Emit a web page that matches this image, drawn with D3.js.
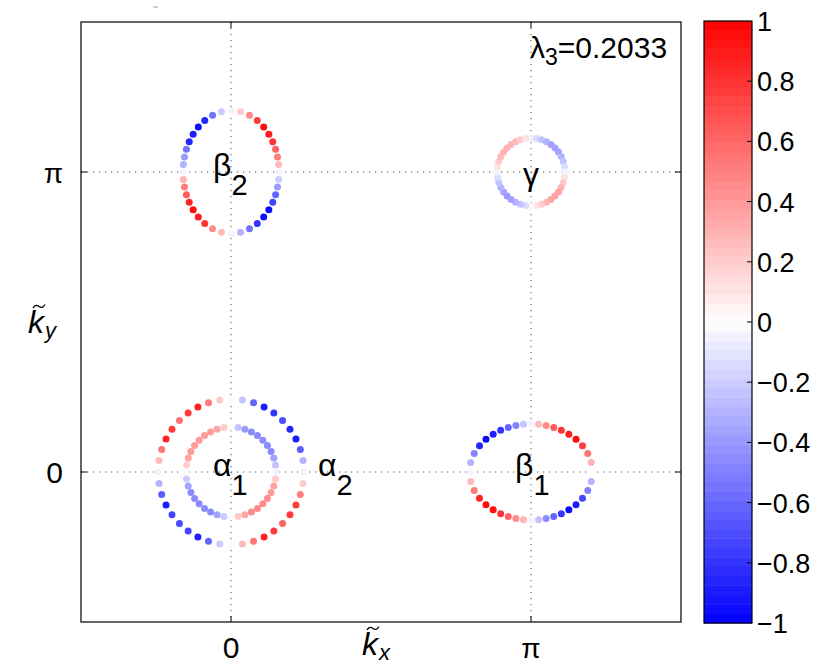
<!DOCTYPE html>
<html>
<head>
<meta charset="utf-8">
<script src="https://cdn.jsdelivr.net/npm/d3@7"></script>
<style>
  body { margin: 0; background: #fff; }
  text { font-family: "Liberation Sans", Arial, sans-serif; }
</style>
</head>
<body>
<svg id="chart" width="832" height="668"></svg>
<script>
// ---- Fermi pockets: centre (units of π) and semi-axes (units of π) ----
const pocketCenterX = [0, 0, 0, 1, 1];
const pocketCenterY = [0, 0, 1, 0, 1];
const pocketRadiusX = [0.243, 0.15, 0.16, 0.205, 0.113];
const pocketRadiusY = [0.243, 0.15, 0.205, 0.16, 0.113];

// ---- gap values on each pocket, 40 k-points, clockwise from the top ----
const alpha2Values = [
  0.00, -0.25, -0.60, -0.90, -0.80, -0.70, -0.85, -0.90, -0.65, -0.30,
 -0.05,  0.20,  0.50,  0.75,  0.75,  0.60,  0.75,  0.85,  0.55,  0.25,
  0.00, -0.20, -0.60, -0.90, -0.75, -0.70, -0.75, -0.90, -0.65, -0.30,
 -0.05,  0.25,  0.55,  0.85,  0.75,  0.55,  0.75,  0.85,  0.50,  0.20];
const alpha1Values = [
  0.02, -0.25, -0.40, -0.45, -0.45, -0.45, -0.45, -0.45, -0.35, -0.25,
 -0.05,  0.20,  0.35,  0.40,  0.45,  0.45,  0.45,  0.45,  0.35,  0.20,
  0.00, -0.20, -0.35, -0.45, -0.45, -0.45, -0.45, -0.45, -0.35, -0.20,
  0.00,  0.20,  0.35,  0.40,  0.40,  0.40,  0.40,  0.40,  0.35,  0.20];
const beta2Values = [
 -0.05,  0.20,  0.45,  0.75,  0.95,  0.90,  0.80,  0.60,  0.50,  0.25,
 -0.05, -0.20, -0.40, -0.60, -0.75, -0.95, -0.95, -0.80, -0.55, -0.30,
 -0.05,  0.25,  0.45,  0.80,  0.90,  0.95,  0.85,  0.65,  0.50,  0.30,
 -0.05, -0.30, -0.40, -0.55, -0.85, -0.90, -0.95, -0.85, -0.55, -0.20];
const beta1Values = [
 -0.05,  0.25,  0.45,  0.65,  0.80,  0.90,  0.95,  0.75,  0.55,  0.30,
  0.00, -0.30, -0.50, -0.75, -0.90, -0.95, -0.80, -0.60, -0.45, -0.25,
 -0.05,  0.30,  0.45,  0.60,  0.80,  0.95,  0.95,  0.85,  0.50,  0.25,
 -0.05, -0.30, -0.50, -0.85, -0.95, -0.90, -0.80, -0.60, -0.50, -0.25];
const gammaValues = [
 -0.05, -0.15, -0.25, -0.30, -0.35, -0.35, -0.35, -0.30, -0.25, -0.15,
 -0.05,  0.10,  0.20,  0.30,  0.35,  0.35,  0.35,  0.30,  0.20,  0.10,
 -0.02, -0.15, -0.25, -0.30, -0.35, -0.40, -0.35, -0.30, -0.25, -0.15,
 -0.05,  0.10,  0.20,  0.25,  0.30,  0.30,  0.30,  0.25,  0.20,  0.10];
const pocketValues = [alpha2Values, alpha1Values, beta2Values, beta1Values, gammaValues];

// ---- pocket labels ----
const pocketLabels = ["α", "α", "β", "β", "γ"];
const pocketSubs = ["2", "1", "2", "1", ""];

// ---- axes ticks and colour bar ticks ----
const axisTickValues = [0, 1];
const axisTickLabels = ["0", "π"];
const colorbarTicks = [-1, -0.8, -0.6, -0.4, -0.2, 0, 0.2, 0.4, 0.6, 0.8, 1];
const lambdaValue = "0.2033";

// ---- layout ----
const svg = d3.select("#chart");
const plot = { left: 81, right: 681, top: 22, bottom: 622 };
const x = d3.scaleLinear().domain([-0.5, 1.5]).range([plot.left, plot.right]);
const y = d3.scaleLinear().domain([-0.5, 1.5]).range([plot.bottom, plot.top]);

// blue-white-red colormap with 64 levels
const nLevels = 64;
function levelColor(k) {
  const v = -1 + (k + 0.5) * 2 / nLevels;
  if (v < 0) {
    const t = 1 + v;
    return d3.rgb(255 * t, 255 * t, 255);
  }
  const t = 1 - v;
  return d3.rgb(255, 255 * t, 255 * t);
}
const cmap = d3.scaleQuantize().domain([-1, 1]).range(d3.range(nLevels).map(levelColor));

svg.append("rect").attr("width", 832).attr("height", 668).attr("fill", "#fff");

// dotted grid at 0 and π
const grid = svg.append("g").attr("stroke", "#3a3a3a").attr("stroke-width", 0.9)
  .attr("stroke-dasharray", "1.2,4.8");
axisTickValues.forEach(t => {
  grid.append("line").attr("x1", x(t)).attr("x2", x(t)).attr("y1", plot.top).attr("y2", plot.bottom);
  grid.append("line").attr("y1", y(t)).attr("y2", y(t)).attr("x1", plot.left).attr("x2", plot.right);
});

// axes with inward ticks on all four sides
const tickLen = 6;
const axes = svg.append("g").attr("stroke", "#000").attr("stroke-width", 1);
axisTickValues.forEach(t => {
  axes.append("line").attr("x1", x(t)).attr("x2", x(t)).attr("y1", plot.bottom).attr("y2", plot.bottom - tickLen);
  axes.append("line").attr("x1", x(t)).attr("x2", x(t)).attr("y1", plot.top).attr("y2", plot.top + tickLen);
  axes.append("line").attr("y1", y(t)).attr("y2", y(t)).attr("x1", plot.left).attr("x2", plot.left + tickLen);
  axes.append("line").attr("y1", y(t)).attr("y2", y(t)).attr("x1", plot.right).attr("x2", plot.right - tickLen);
});

// k-points on each pocket: 40 polar angles, clockwise from the top
const points = [];
pocketValues.forEach((vals, p) => {
  const n = vals.length;
  vals.forEach((v, i) => {
    const th = Math.PI / 2 - i * 2 * Math.PI / n;
    const c = Math.cos(th), s = Math.sin(th);
    const rx = pocketRadiusX[p], ry = pocketRadiusY[p];
    const r = 1 / Math.sqrt((c * c) / (rx * rx) + (s * s) / (ry * ry));
    points.push({ kx: pocketCenterX[p] + r * c, ky: pocketCenterY[p] + r * s, v });
  });
});
svg.append("g").selectAll("circle").data(points).join("circle")
  .attr("cx", d => x(d.kx)).attr("cy", d => y(d.ky)).attr("r", 3.5)
  .attr("fill", d => cmap(d.v));

// axes box
svg.append("rect").attr("x", plot.left).attr("y", plot.top)
  .attr("width", plot.right - plot.left).attr("height", plot.bottom - plot.top)
  .attr("fill", "none").attr("stroke", "#000").attr("stroke-width", 1.2);

// pocket labels (anchored to the pocket centre)
const labelOffsets = [[87, 4], [-18, 4], [-18, 4], [-16, 4], [-8, 13]];
const labels = svg.append("g").attr("font-size", 32).attr("fill", "#000");
pocketLabels.forEach((lab, p) => {
  const cx = x(pocketCenterX[p]) + labelOffsets[p][0];
  const cy = y(pocketCenterY[p]) + labelOffsets[p][1];
  const t = labels.append("text").attr("x", cx).attr("y", cy);
  t.append("tspan").text(lab);
  if (pocketSubs[p]) t.append("tspan").attr("dy", 19).attr("font-size", 29).text(pocketSubs[p]);
});

// λ3 annotation
const lam = svg.append("text").attr("x", 530).attr("y", 58).attr("font-size", 30);
lam.append("tspan").text("λ");
lam.append("tspan").attr("dy", 7).attr("font-size", 23).text("3");
lam.append("tspan").attr("dy", -7).text("=" + lambdaValue);

// tick labels
const tl = svg.append("g").attr("font-size", 30).attr("fill", "#000");
axisTickValues.forEach((t, i) => {
  tl.append("text").attr("x", x(t)).attr("y", plot.bottom + 36).attr("text-anchor", "middle")
    .attr("font-family", i ? "DejaVu Serif" : null).attr("font-size", i ? 28 : null).text(axisTickLabels[i]);
  tl.append("text").attr("x", plot.left - 18).attr("y", y(t) + 11).attr("text-anchor", "end")
    .attr("font-family", i ? "DejaVu Serif" : null).attr("font-size", i ? 28 : null).text(axisTickLabels[i]);
});

// axis titles: k with a tilde accent and a subscript
function kTilde(px, py, sub) {
  const g = svg.append("g").attr("font-family", "Liberation Serif").attr("font-style", "italic");
  g.append("text").attr("x", px).attr("y", py).attr("font-size", 32).text("k");
  const tx = px + 5, ty = py - 27;
  g.append("path")
    .attr("d", `M${tx},${ty + 2} C${tx + 2},${ty - 1.5} ${tx + 4},${ty - 1} ${tx + 6},${ty + 0.5} S${tx + 10},${ty + 2} ${tx + 12},${ty - 1.5}`)
    .attr("fill", "none").attr("stroke", "#000").attr("stroke-width", 1.3);
  g.append("text").attr("x", px + 17).attr("y", py + 5).attr("font-size", 22).text(sub);
}
kTilde(362, 655, "x");
kTilde(28, 333, "y");

// small stray mark above the axes
svg.append("line").attr("x1", 153).attr("x2", 158).attr("y1", 7).attr("y2", 7)
  .attr("stroke", "#999").attr("stroke-width", 1);

// colour bar
const cb = { left: 704, right: 752, top: 21, bottom: 623 };
const cy = d3.scaleLinear().domain([-1, 1]).range([cb.bottom, cb.top]);
const bandH = (cb.bottom - cb.top) / nLevels;
svg.append("g").selectAll("rect").data(d3.range(nLevels)).join("rect")
  .attr("x", cb.left).attr("width", cb.right - cb.left)
  .attr("y", k => cy(-1 + (k + 1) * 2 / nLevels)).attr("height", bandH + 0.5)
  .attr("fill", k => levelColor(k));
svg.append("rect").attr("x", cb.left).attr("y", cb.top)
  .attr("width", cb.right - cb.left).attr("height", cb.bottom - cb.top)
  .attr("fill", "none").attr("stroke", "#000").attr("stroke-width", 1.2);
const cbt = svg.append("g");
colorbarTicks.forEach(t => {
  if (t > -1 && t < 1) {
    cbt.append("line").attr("x1", cb.right).attr("x2", cb.right - 5)
      .attr("y1", cy(t)).attr("y2", cy(t)).attr("stroke", "#000").attr("stroke-width", 1);
  }
  cbt.append("text").attr("x", cb.right + 5).attr("y", cy(t) + 10).attr("font-size", 27)
    .text(t < 0 ? "\u2212" + d3.format("")(-t) : d3.format("")(t));
});
</script>
</body>
</html>
